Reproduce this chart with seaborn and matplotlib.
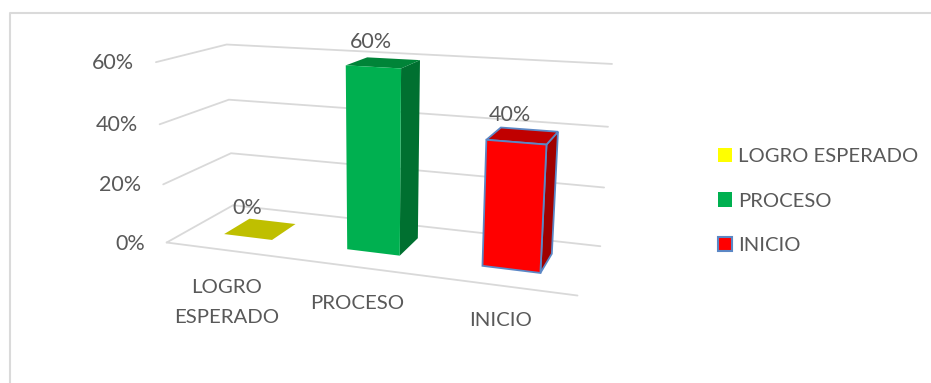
import numpy as np
import pandas as pd
import matplotlib
matplotlib.use("Agg")
import matplotlib.pyplot as plt
from matplotlib.patches import Polygon
from matplotlib.transforms import Transform
import seaborn as sns

# Chart data
categories = ["LOGRO ESPERADO", "PROCESO", "INICIO"]
axis_labels = ["LOGRO\nESPERADO", "PROCESO", "INICIO"]
values = [0.0, 0.6, 0.4]
value_labels = ["0%", "60%", "40%"]
y_ticks = [0.0, 0.2, 0.4, 0.6]
y_tick_labels = ["0%", "20%", "40%", "60%"]

# Face colours of each column
front_colors = ["#FFFF00", "#00B050", "#FF0000"]
side_colors = ["#A6A600", "#007030", "#A00000"]
top_colors = ["#BFBF00", "#008438", "#C00000"]
edge_colors = ["none", "none", "#5B87C5"]

TEXT = "#595959"
GRID = "#D9D9D9"

# Perspective camera: (category, depth, value) -> figure pixels
CAMERA = np.array([
    [112.90732, 98.38778, -31.27519, 227.04886],
    [4.12999, -11.38544, -312.85429, 250.30222],
    [-0.04723, 0.13037, -0.08335, 1.0],
])
X_MIN, X_MAX = -0.5, 2.5
BAR_WIDTH = 0.4
DEPTH_FRONT, DEPTH_BACK = 0.315, 0.72


def project(x, depth, value):
    p = CAMERA @ np.array([x, depth, value, 1.0])
    return p[0] / p[2], p[1] / p[2]


class DepthPlane(Transform):
    """Maps (category, value) on a plane of constant depth to pixels."""
    input_dims = output_dims = 2

    def __init__(self, plane_depth):
        super().__init__()
        self.plane_depth = plane_depth

    def transform_non_affine(self, values):
        return np.array([project(x, self.plane_depth, z) for x, z in values]).reshape(-1, 2)


sns.set_theme(style="white")
plt.rcParams["font.family"] = ["Lato", "DejaVu Sans"]

fig = plt.figure(figsize=(9.31, 3.83), dpi=100, facecolor="white")
ax = fig.add_axes([0, 0, 1, 1])

frame = pd.DataFrame({"category": categories, "value": values})
sns.barplot(
    data=frame, x="category", y="value", hue="category", hue_order=categories,
    palette=front_colors, width=BAR_WIDTH, dodge=False, saturation=1,
    legend=True, ax=ax, zorder=3,
)

# The axes works in pixels, the camera places everything in it
ax.set_xlim(0, 931)
ax.set_ylim(383, 0)
ax.set_axis_off()

# Walls and floor
for tick, tick_label in zip(y_ticks, y_tick_labels):
    corner = project(X_MIN, 0, tick)
    rear = project(X_MIN, 1, tick)
    right = project(X_MAX, 1, tick)
    ax.plot(*zip(corner, rear, right), color=GRID, lw=1.3, zorder=0.5,
            solid_joinstyle="miter")
    ax.text(corner[0] - 22, corner[1] + 1, tick_label, ha="right", va="center",
            fontsize=15.5, color=TEXT)
ax.plot(*zip(project(X_MIN, 0, 0), project(X_MAX, 0, 0)), color=GRID, lw=1.3, zorder=0.5)

# Columns: the front face comes from the seaborn bar, depth faces are added to it
bars = [container[0] for container in ax.containers]
for i, bar in enumerate(bars):
    left, right = bar.get_x(), bar.get_x() + bar.get_width()
    height = bar.get_height()
    bar.set_transform(DepthPlane(DEPTH_FRONT) + ax.transData)
    bar.set_edgecolor(edge_colors[i])
    bar.set_linewidth(1.3)
    side = [project(right, DEPTH_FRONT, 0), project(right, DEPTH_BACK, 0),
            project(right, DEPTH_BACK, height), project(right, DEPTH_FRONT, height)]
    top = [project(left, DEPTH_FRONT, height), project(right, DEPTH_FRONT, height),
           project(right, DEPTH_BACK, height), project(left, DEPTH_BACK, height)]
    lw = 1.3 if edge_colors[i] != "none" else 0
    ax.add_patch(Polygon(side, facecolor=side_colors[i], edgecolor=edge_colors[i], lw=lw, zorder=2))
    ax.add_patch(Polygon(top, facecolor=top_colors[i], edgecolor=edge_colors[i], lw=lw, zorder=2))
    tip = project((left + right) / 2, (DEPTH_FRONT + DEPTH_BACK) / 2, height)
    ax.text(tip[0] - 13, tip[1] - 11, value_labels[i], ha="center", va="bottom",
            fontsize=15.5, color=TEXT, zorder=4)

# Category labels sit under the floor's front edge
for i, label in enumerate(axis_labels):
    base = project(i, 0, 0)
    ax.text(base[0], base[1] + 29 - 1.5 * i, label, ha="center", va="top", fontsize=14.7,
            color=TEXT, linespacing=1.9)

# Legend
sns.move_legend(
    ax, loc="center left", bbox_to_anchor=(0.771, 0.475), title=None, frameon=False,
    fontsize=14.6, handlelength=0.72, handleheight=0.72, handletextpad=0.27,
    labelspacing=1.34, borderpad=0, borderaxespad=0,
)
legend = ax.get_legend()
for text in legend.get_texts():
    text.set_color(TEXT)
for handle, edge in zip(legend.get_patches(), edge_colors):
    handle.set_edgecolor(edge)
    handle.set_linewidth(1.5)

# Outer chart frame, open on the right and at the bottom
fig.add_artist(plt.Line2D([10 / 931, 10 / 931, 1], [0, 1 - 13 / 383, 1 - 13 / 383],
                          color="#DADADA", lw=1.5))

fig.savefig("out.png", dpi=100, facecolor="white")
